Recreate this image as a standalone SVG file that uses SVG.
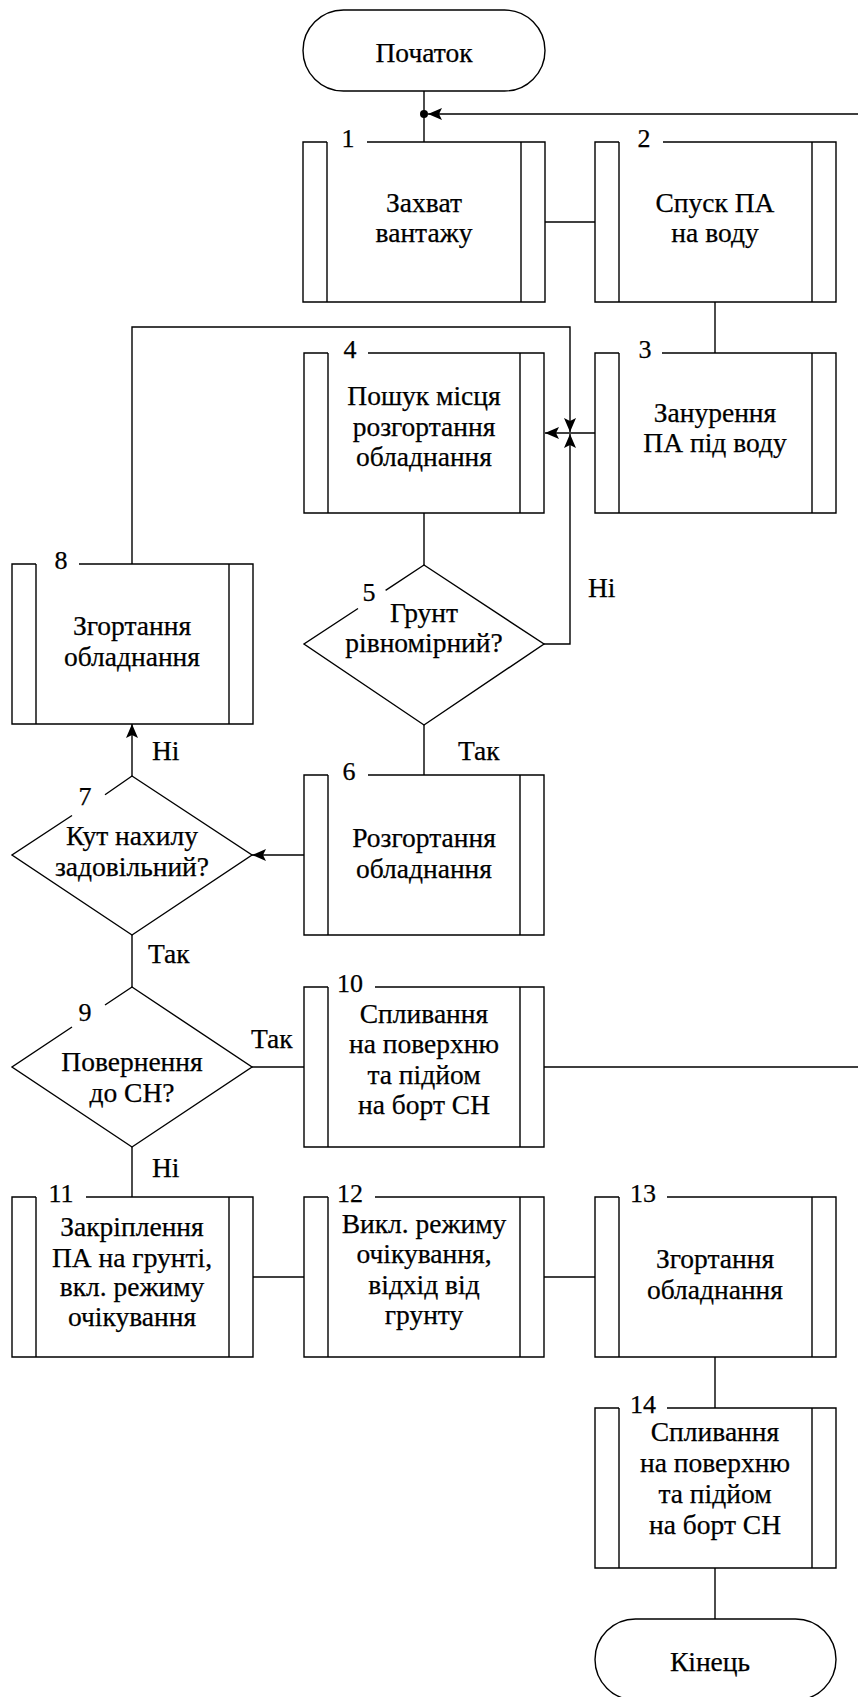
<svg xmlns="http://www.w3.org/2000/svg" width="858" height="1697" viewBox="0 0 858 1697">
<style>
.s{fill:none;stroke:#000;stroke-width:1.4}
text{font-family:"Liberation Serif","Times New Roman",serif;fill:#000;stroke:#000;stroke-width:0.25}
.t{font-size:27.5px;text-anchor:middle}
.l{font-size:27.5px}
.n{font-size:26px;text-anchor:middle}
</style>
<defs>
<marker id="ah" viewBox="0 0 14 12" refX="14" refY="6" markerWidth="14" markerHeight="12" markerUnits="userSpaceOnUse" orient="auto">
<path d="M0,0 L14,6 L0,12 L3,6 z" fill="#000" stroke="none"/>
</marker>
</defs>
<rect width="858" height="1697" fill="#fff"/>

<g id="connectors" class="s">
<path d="M424,91 V142"/>
<circle cx="424" cy="114" r="4" fill="#000" stroke="none"/>
<path d="M544,1067 H880 V114 H428" marker-end="url(#ah)"/>
<path d="M545,222 H595"/>
<path d="M715,302 V353"/>
<path d="M595,433 H545" marker-end="url(#ah)"/>
<path d="M132,564 V327 H570 V432" marker-end="url(#ah)"/>
<path d="M544,644 H570 V434" marker-end="url(#ah)"/>
<path d="M424,513 V565"/>
<path d="M424,725 V775"/>
<path d="M304,855 H252" marker-end="url(#ah)"/>
<path d="M132,776 V724" marker-end="url(#ah)"/>
<path d="M132,935 V987"/>
<path d="M252,1067 H304"/>
<path d="M132,1147 V1197"/>
<path d="M253,1277 H304"/>
<path d="M544,1277 H595"/>
<path d="M715,1357 V1408"/>
<path d="M715,1568 V1619"/>
</g>
<g id="edge-labels">
<text class="l" x="588" y="597">Ні</text>
<text class="l" x="458" y="760">Так</text>
<text class="l" x="152" y="760">Ні</text>
<text class="l" x="148" y="963">Так</text>
<text class="l" x="251" y="1048">Так</text>
<text class="l" x="152" y="1177">Ні</text>
</g>

<g id="start">
<rect class="s" x="303" y="10" width="242" height="81" rx="40.5"/>
<text class="t" x="424" y="62">Початок</text>
</g>

<g id="n1">
<path class="s" d="M367,142 H545 V302 H303 V142 H327 M327,142 V302 M521,142 V302"/>
<text class="n" x="348" y="147">1</text>
<text class="t" x="424" y="212">Захват</text>
<text class="t" x="424" y="242">вантажу</text>
</g>

<g id="n2">
<path class="s" d="M663,142 H836 V302 H595 V142 H619 M619,142 V302 M812,142 V302"/>
<text class="n" x="644" y="147">2</text>
<text class="t" x="715" y="212">Спуск ПА</text>
<text class="t" x="715" y="242">на воду</text>
</g>

<g id="n3">
<path class="s" d="M662,353 H836 V513 H595 V353 H619 M619,353 V513 M812,353 V513"/>
<text class="n" x="645" y="358">3</text>
<text class="t" x="715" y="422">Занурення</text>
<text class="t" x="715" y="452">ПА під воду</text>
</g>

<g id="n4">
<path class="s" d="M368,353 H544 V513 H304 V353 H328 M328,353 V513 M520,353 V513"/>
<text class="n" x="350" y="358">4</text>
<text class="t" x="424" y="405">Пошук місця</text>
<text class="t" x="424" y="436">розгортання</text>
<text class="t" x="424" y="466">обладнання</text>
</g>

<g id="n5">
<path class="s" d="M358,608.5 L304,644 L424,725 L544,644 L424,565 L385.6,590.3"/>
<text class="n" x="369" y="601">5</text>
<text class="t" x="424" y="622">Грунт</text>
<text class="t" x="424" y="652">рівномірний?</text>
</g>

<g id="n6">
<path class="s" d="M368,775 H544 V935 H304 V775 H328 M328,775 V935 M520,775 V935"/>
<text class="n" x="349" y="780">6</text>
<text class="t" x="424" y="847">Розгортання</text>
<text class="t" x="424" y="878">обладнання</text>
</g>

<g id="n7">
<path class="s" d="M72,815.5 L12,855 L132,935 L252,855 L132,776 L105,794.8"/>
<text class="n" x="85" y="805">7</text>
<text class="t" x="132" y="845">Кут нахилу</text>
<text class="t" x="132" y="876">задовільний?</text>
</g>

<g id="n8">
<path class="s" d="M79,564 H253 V724 H12 V564 H36 M36,564 V724 M229,564 V724"/>
<text class="n" x="61" y="569">8</text>
<text class="t" x="132" y="635">Згортання</text>
<text class="t" x="132" y="666">обладнання</text>
</g>

<g id="n9">
<path class="s" d="M72,1027 L12,1067 L132,1147 L252,1067 L132,987 L105,1005"/>
<text class="n" x="85" y="1021">9</text>
<text class="t" x="132" y="1071">Повернення</text>
<text class="t" x="132" y="1102">до СН?</text>
</g>

<g id="n10">
<path class="s" d="M375,987 H544 V1147 H304 V987 H328 M328,987 V1147 M520,987 V1147"/>
<text class="n" x="350" y="992">10</text>
<text class="t" x="424" y="1023">Спливання</text>
<text class="t" x="424" y="1053">на поверхню</text>
<text class="t" x="424" y="1084">та підйом</text>
<text class="t" x="424" y="1114">на борт СН</text>
</g>

<g id="n11">
<path class="s" d="M86,1197 H253 V1357 H12 V1197 H36 M36,1197 V1357 M229,1197 V1357"/>
<text class="n" x="61" y="1202">11</text>
<text class="t" x="132" y="1236">Закріплення</text>
<text class="t" x="132" y="1267">ПА на грунті,</text>
<text class="t" x="132" y="1296">вкл. режиму</text>
<text class="t" x="132" y="1326">очікування</text>
</g>

<g id="n12">
<path class="s" d="M375,1197 H544 V1357 H304 V1197 H328 M328,1197 V1357 M520,1197 V1357"/>
<text class="n" x="350" y="1202">12</text>
<text class="t" x="424" y="1233">Викл. режиму</text>
<text class="t" x="424" y="1263">очікування,</text>
<text class="t" x="424" y="1294">відхід від</text>
<text class="t" x="424" y="1324">грунту</text>
</g>

<g id="n13">
<path class="s" d="M667,1197 H836 V1357 H595 V1197 H619 M619,1197 V1357 M812,1197 V1357"/>
<text class="n" x="643" y="1202">13</text>
<text class="t" x="715" y="1268">Згортання</text>
<text class="t" x="715" y="1299">обладнання</text>
</g>

<g id="n14">
<path class="s" d="M667,1408 H836 V1568 H595 V1408 H619 M619,1408 V1568 M812,1408 V1568"/>
<text class="n" x="643" y="1413">14</text>
<text class="t" x="715" y="1441">Спливання</text>
<text class="t" x="715" y="1472">на поверхню</text>
<text class="t" x="715" y="1503">та підйом</text>
<text class="t" x="715" y="1534">на борт СН</text>
</g>

<g id="end">
<rect class="s" x="595" y="1619" width="241" height="81" rx="40.5"/>
<text class="t" x="710" y="1671">Кінець</text>
</g>
</svg>
